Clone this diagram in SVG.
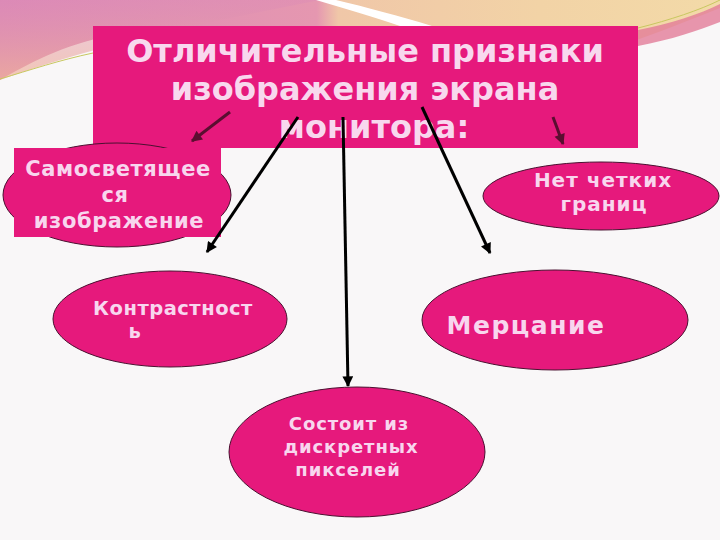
<svg xmlns="http://www.w3.org/2000/svg" width="720" height="540" viewBox="0 0 720 540">
  <defs>
    <linearGradient id="band" x1="0" y1="0" x2="1" y2="0">
      <stop offset="0" stop-color="#DD8BB6"/>
      <stop offset="0.44" stop-color="#E597B0"/>
      <stop offset="0.47" stop-color="#F0C7A8"/>
      <stop offset="0.75" stop-color="#F2D3A6"/>
      <stop offset="1" stop-color="#F3DAA8"/>
    </linearGradient>
    <linearGradient id="bandv" x1="0" y1="0" x2="0" y2="1">
      <stop offset="0" stop-color="#DA88B8" stop-opacity="0.35"/>
      <stop offset="1" stop-color="#F0B396" stop-opacity="0.7"/>
    </linearGradient>
    <marker id="ah" viewBox="0 0 10 10" refX="9" refY="5" markerWidth="4" markerHeight="3.6" orient="auto" markerUnits="strokeWidth">
      <path d="M0,0 L10,5 L0,10 z" fill="#000"/>
    </marker>
    <marker id="ahm" viewBox="0 0 10 10" refX="9" refY="5" markerWidth="4" markerHeight="3.6" orient="auto" markerUnits="strokeWidth">
      <path d="M0,0 L10,5 L0,10 z" fill="#5A0E30"/>
    </marker>
    <style>
      .node { fill: #E6197C; stroke: #4A1030; stroke-width: 1; }
      .box { fill: #E6197C; }
      .title { font-family: "DejaVu Sans", "Noto Sans", sans-serif; font-weight: bold; font-size: 32px; fill: #F8D8EE; text-anchor: middle; }
      .lbl { font-family: "DejaVu Sans", "Noto Sans", sans-serif; font-weight: bold; fill: #F8D6EE; text-anchor: middle; }
      .conn { stroke: #000; stroke-width: 3; fill: none; marker-end: url(#ah); }
      .connm { stroke: #5A0E30; stroke-width: 3; fill: none; marker-end: url(#ahm); }
    </style>
  </defs>

  <!-- background -->
  <rect x="0" y="0" width="720" height="540" fill="#F9F7F8"/>
  <path d="M0,0 H720 V8 C690,20 660,32 620,46 L120,34 C70,42 35,60 0,80 Z" fill="url(#band)"/>
  <path d="M0,0 H320 C220,20 110,40 0,80 Z" fill="url(#bandv)"/>
  <path d="M316,0 C345,9 375,17 400,26 L432,26 C400,16 365,7 336,0 Z" fill="#FFFFFF"/>
  <path d="M638,30 C670,24 700,14 720,4 L720,22 C700,30 670,40 638,46 Z" fill="#E27C98" opacity="0.8"/>
  <path d="M0,79 C30,70 60,60 93,53" stroke="#C8C860" stroke-width="1" fill="none"/>
  <path d="M638,28 C670,20 700,10 720,0" stroke="#C8C860" stroke-width="1" fill="none"/>

  <!-- title -->
  <g id="title">
    <rect class="box" x="93" y="26" width="545" height="122"/>
    <text class="title" x="365" y="62">Отличительные признаки</text>
    <text class="title" x="365" y="100">изображения экрана</text>
    <text class="title" x="374" y="138">монитора:</text>
  </g>

  <g id="n-selflight">
    <ellipse class="node" cx="117" cy="195" rx="114" ry="52"/>
    <rect class="box" x="14" y="148" width="207" height="89"/>
    <text class="lbl" font-size="21" letter-spacing="0.6" x="118" y="176">Самосветящее</text>
    <text class="lbl" font-size="21" letter-spacing="0.6" x="115" y="202">ся</text>
    <text class="lbl" font-size="21" letter-spacing="0.6" x="119" y="228">изображение</text>
  </g>

  <g id="n-noborders">
    <ellipse class="node" cx="601" cy="196" rx="118" ry="34"/>
    <text class="lbl" font-size="20" letter-spacing="1" x="603" y="187">Нет четких</text>
    <text class="lbl" font-size="20" letter-spacing="1" x="604" y="211">границ</text>
  </g>

  <g id="n-contrast">
    <ellipse class="node" cx="170" cy="319" rx="117" ry="48"/>
    <text class="lbl" font-size="19.5" letter-spacing="0.5" x="173" y="315">Контрастност</text>
    <text class="lbl" font-size="19.5" letter-spacing="0.5" x="135" y="338">ь</text>
  </g>

  <g id="n-flicker">
    <ellipse class="node" cx="555" cy="320" rx="133" ry="50"/>
    <text class="lbl" font-size="25" letter-spacing="1.5" x="526" y="334">Мерцание</text>
  </g>

  <g id="n-pixels">
    <ellipse class="node" cx="357" cy="452" rx="128" ry="65"/>
    <text class="lbl" font-size="18" letter-spacing="0.9" x="349" y="430">Состоит из</text>
    <text class="lbl" font-size="18" letter-spacing="0.9" x="351" y="453">дискретных</text>
    <text class="lbl" font-size="18" letter-spacing="0.9" x="348" y="476">пикселей</text>
  </g>

  <g id="connectors">
    <line class="connm" x1="230" y1="112" x2="192" y2="141"/>
    <line class="conn" x1="298" y1="117" x2="207" y2="252"/>
    <line class="conn" x1="343" y1="117" x2="348" y2="386"/>
    <line class="conn" x1="422" y1="107" x2="490" y2="253"/>
    <line class="connm" x1="553" y1="117" x2="563" y2="144"/>
  </g>
</svg>
